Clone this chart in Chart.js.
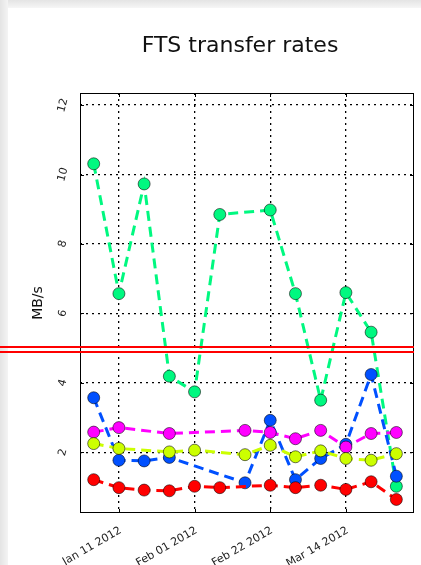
<!DOCTYPE html>
<html>
<head>
<meta charset="utf-8">
<script src="https://cdn.jsdelivr.net/npm/chart.js@4"></script>
<style>
    html, body { margin: 0; padding: 0; background: #fff; overflow: hidden; }
    canvas { display: block; }
</style>
</head>
<body>
<canvas id="ftsChart" width="421" height="565"></canvas>
<script>
// days counted from Jan 1 2012 (day 0)
const tickDays = [10, 31, 52, 73];
const tickLabels = ['Jan 11 2012', 'Feb 01 2012', 'Feb 22 2012', 'Mar 14 2012'];
const yTicks = [2, 4, 6, 8, 10, 12];

const greenDays = [3, 10, 17, 24, 31, 38, 52, 59, 66, 73, 80, 87];
const greenRates = [10.31, 6.57, 9.73, 4.19, 3.74, 8.85, 8.98, 6.57, 3.50, 6.60, 5.46, 1.02];

const blueDays = [3, 10, 17, 24, 45, 52, 59, 66, 73, 80, 87];
const blueRates = [3.57, 1.77, 1.75, 1.85, 1.12, 2.92, 1.21, 1.82, 2.23, 4.24, 1.31];

const magentaDays = [3, 10, 24, 45, 52, 59, 66, 73, 80, 87];
const magentaRates = [2.58, 2.71, 2.54, 2.63, 2.57, 2.39, 2.63, 2.15, 2.54, 2.57];

const limeDays = [3, 10, 24, 31, 45, 52, 59, 66, 73, 80, 87];
const limeRates = [2.25, 2.11, 2.01, 2.06, 1.93, 2.20, 1.87, 2.04, 1.82, 1.77, 1.96];

const redDays = [3, 10, 17, 24, 31, 38, 52, 59, 66, 73, 80, 87];
const redRates = [1.21, 0.98, 0.91, 0.89, 1.02, 0.98, 1.05, 0.98, 1.05, 0.93, 1.15, 0.64];

const FONT = "'DejaVu Sans', sans-serif";

function makeSeries(days, rates, color, order) {
    return {
        data: days.map((d, i) => ({ x: d, y: rates[i] })),
        borderColor: color,
        backgroundColor: color,
        borderWidth: 3,
        borderDash: [10, 6],
        pointRadius: 6,
        pointBorderWidth: 1,
        pointBorderColor: 'rgba(0,0,0,0.55)',
        pointBackgroundColor: color,
        tension: 0,
        fill: false,
        order: order
    };
}

// page shadow, frame, ticks, labels and the red marker lines
const decorPlugin = {
    id: 'decor',
    beforeDraw(chart) {
        const ctx = chart.ctx;
        ctx.save();
        ctx.fillStyle = '#fff';
        ctx.fillRect(0, 0, chart.width, chart.height);
        let g = ctx.createLinearGradient(0, 0, 0, 9);
        g.addColorStop(0, '#e4e4e4');
        g.addColorStop(1, '#f8f8f8');
        ctx.fillStyle = g;
        ctx.fillRect(0, 0, chart.width, 8);
        g = ctx.createLinearGradient(0, 0, 9, 0);
        g.addColorStop(0, '#e4e4e4');
        g.addColorStop(1, '#f6f6f6');
        ctx.fillStyle = g;
        ctx.fillRect(0, 0, 8, chart.height);
        ctx.restore();
    },
    afterDatasetsDraw(chart) {
        const ctx = chart.ctx;
        const a = chart.chartArea;
        const xs = chart.scales.x;
        const ys = chart.scales.y;
        ctx.save();

        // frame
        ctx.strokeStyle = '#000';
        ctx.lineWidth = 1;
        ctx.strokeRect(Math.round(a.left) + 0.5, Math.round(a.top) + 0.5,
            Math.round(a.right - a.left) - 1, Math.round(a.bottom - a.top) - 1);

        // inward tick marks
        ctx.beginPath();
        tickDays.forEach(d => {
            const px = Math.round(xs.getPixelForValue(d)) + 0.5;
            ctx.moveTo(px, a.top); ctx.lineTo(px, a.top + 4);
            ctx.moveTo(px, a.bottom); ctx.lineTo(px, a.bottom - 4);
        });
        yTicks.forEach(v => {
            const py = Math.round(ys.getPixelForValue(v)) + 0.5;
            ctx.moveTo(a.left, py); ctx.lineTo(a.left + 4, py);
            ctx.moveTo(a.right, py); ctx.lineTo(a.right - 4, py);
        });
        ctx.stroke();

        // x tick labels
        ctx.fillStyle = '#222';
        ctx.font = '11px ' + FONT;
        ctx.textAlign = 'right';
        ctx.textBaseline = 'top';
        tickDays.forEach((d, i) => {
            const px = xs.getPixelForValue(d);
            ctx.save();
            ctx.translate(px - 1, a.bottom + 12);
            ctx.rotate(-30 * Math.PI / 180);
            ctx.fillText(tickLabels[i], 0, 0);
            ctx.restore();
        });

        // y tick labels
        ctx.textAlign = 'center';
        ctx.textBaseline = 'middle';
        yTicks.forEach(v => {
            const py = ys.getPixelForValue(v);
            ctx.save();
            ctx.translate(a.left - 17, py);
            ctx.rotate(-75 * Math.PI / 180);
            ctx.fillText(String(v), 0, 0);
            ctx.restore();
        });

        // axis title
        ctx.font = '14px ' + FONT;
        ctx.fillStyle = '#111';
        ctx.save();
        ctx.translate(38, 303);
        ctx.rotate(-Math.PI / 2);
        ctx.fillText('MB/s', 0, 0);
        ctx.restore();

        // chart title
        ctx.font = '22px ' + FONT;
        ctx.fillText('FTS transfer rates', 240, 46);

        // double red line across the page
        ctx.strokeStyle = '#ff0000';
        ctx.lineWidth = 2;
        ctx.beginPath();
        ctx.moveTo(0, 347); ctx.lineTo(a.right, 347);
        ctx.moveTo(0, 352); ctx.lineTo(a.right, 352);
        ctx.stroke();

        ctx.restore();
    }
};

const ctx = document.getElementById('ftsChart').getContext('2d');
new Chart(ctx, {
    type: 'line',
    data: {
        datasets: [
            makeSeries(greenDays, greenRates, '#00f880', 5),
            makeSeries(blueDays, blueRates, '#0050ff', 4),
            makeSeries(magentaDays, magentaRates, '#ff00ff', 3),
            makeSeries(limeDays, limeRates, '#ccff00', 2),
            makeSeries(redDays, redRates, '#ff0000', 1)
        ]
    },
    options: {
        responsive: false,
        animation: false,
        devicePixelRatio: 1,
        layout: { padding: { left: 80, top: 93, right: 4, bottom: 52 } },
        plugins: {
            legend: { display: false },
            title: { display: false },
            tooltip: { enabled: false }
        },
        scales: {
            x: {
                type: 'linear',
                min: -0.8,
                max: 91.9,
                afterBuildTicks: (scale) => { scale.ticks = tickDays.map(v => ({ value: v })); },
                ticks: { display: false },
                grid: { color: '#000', lineWidth: 1.3, drawTicks: false },
                border: { display: false, dash: [2, 4] }
            },
            y: {
                min: 0.25,
                max: 12.35,
                afterBuildTicks: (scale) => { scale.ticks = yTicks.map(v => ({ value: v })); },
                ticks: { display: false },
                grid: { color: '#000', lineWidth: 1.3, drawTicks: false },
                border: { display: false, dash: [2, 4] }
            }
        }
    },
    plugins: [decorPlugin]
});
</script>
</body>
</html>
